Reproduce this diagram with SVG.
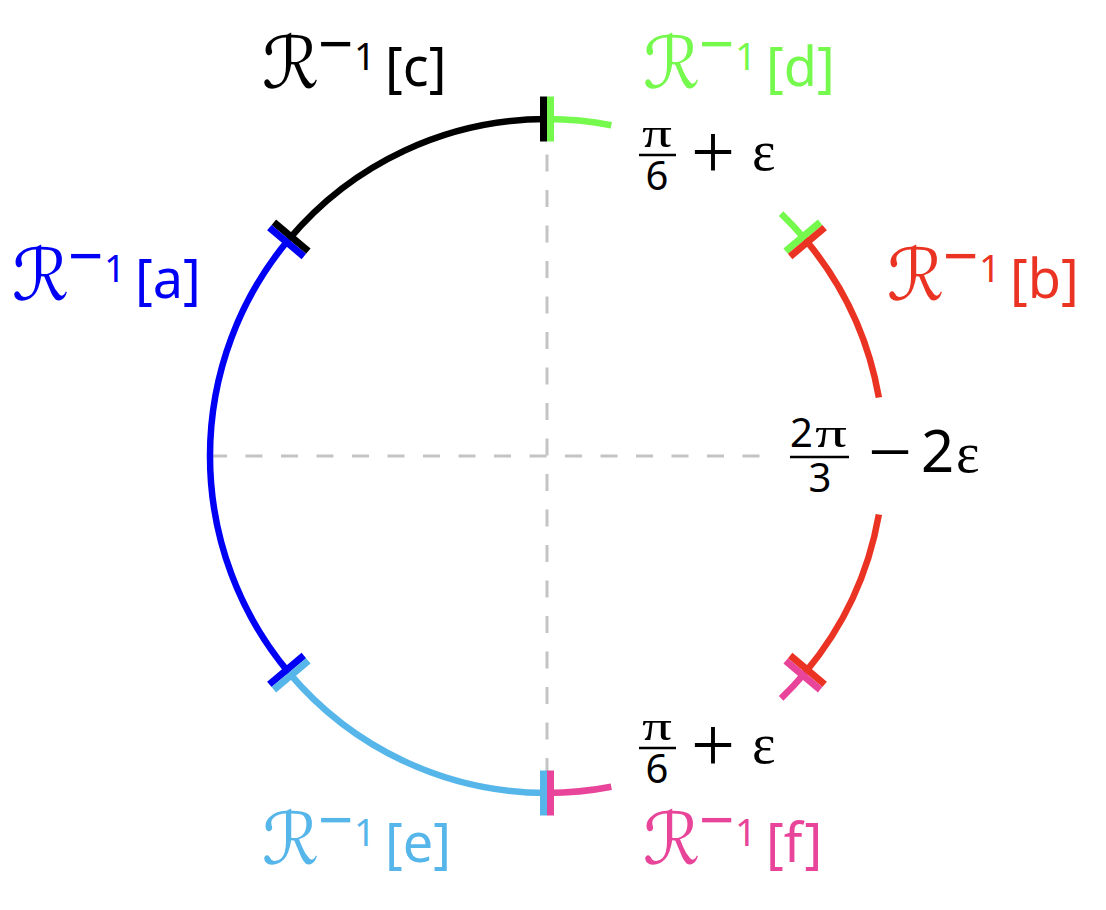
<svg xmlns="http://www.w3.org/2000/svg" width="1106" height="910" viewBox="0 0 1106 910">
<style>
.arc{fill:none;stroke-width:6.5;stroke-linecap:butt}
.tick{stroke-width:7;stroke-linecap:butt}
.axis{stroke:#c4c4c4;stroke-width:3;stroke-dasharray:17 18.5;fill:none}
.R{font-family:"DejaVu Sans",sans-serif;font-size:72px}
.sup{font-family:"Noto Sans",sans-serif;font-size:38px}
.supm{font-family:"Noto Sans",sans-serif;font-size:62px}
.br{font-family:"Noto Sans",sans-serif;font-size:54px}
.num{font-family:"Noto Sans",sans-serif;font-size:40px}
.gr{font-family:"Liberation Serif",serif;font-size:42px}
.op{font-family:"Liberation Serif",serif;font-size:78px}
.eps{font-family:"Liberation Serif",serif;font-size:56px}
.big{font-family:"Noto Sans",sans-serif;font-size:58px}
.bar{stroke:#000;stroke-width:2.5}
</style>
<g id="axes">
<line class="axis" x1="210" y1="456" x2="762" y2="456"/>
<line class="axis" x1="547" y1="119" x2="547" y2="793"/>
</g>
<g id="connectors">
<path class="arc" stroke="#000000" d="M547,119 A337,337 0 0 0 288.84,239.38"/>
<path class="arc" stroke="#0000F5" d="M288.84,239.38 A337,337 0 0 0 288.84,672.62"/>
<path class="arc" stroke="#56B6EA" d="M288.84,672.62 A337,337 0 0 0 547,793"/>
<path class="arc" stroke="#E8449A" d="M547,793 A337,337 0 0 0 611.3,786.81"/>
<path class="arc" stroke="#E8449A" d="M781.1,698.42 A337,337 0 0 0 805.16,672.62"/>
<path class="arc" stroke="#EA3323" d="M805.16,672.62 A337,337 0 0 0 878.88,514.52"/>
<path class="arc" stroke="#EA3323" d="M878.88,397.48 A337,337 0 0 0 805.16,239.38"/>
<path class="arc" stroke="#75F94C" d="M805.16,239.38 A337,337 0 0 0 781.1,213.58"/>
<path class="arc" stroke="#75F94C" d="M611.3,125.19 A337,337 0 0 0 547,119"/>
<line class="tick" stroke="#000000" x1="543.5" y1="96.5" x2="543.5" y2="141.5"/>
<line class="tick" stroke="#75F94C" x1="550.5" y1="96.5" x2="550.5" y2="141.5"/>
<line class="tick" stroke="#000000" x1="273.85" y1="222.24" x2="308.33" y2="251.16"/>
<line class="tick" stroke="#0000F5" x1="269.35" y1="227.6" x2="303.83" y2="256.52"/>
<line class="tick" stroke="#0000F5" x1="269.35" y1="684.4" x2="303.83" y2="655.48"/>
<line class="tick" stroke="#56B6EA" x1="273.85" y1="689.76" x2="308.33" y2="660.84"/>
<line class="tick" stroke="#56B6EA" x1="543.5" y1="770.5" x2="543.5" y2="815.5"/>
<line class="tick" stroke="#E8449A" x1="550.5" y1="770.5" x2="550.5" y2="815.5"/>
<line class="tick" stroke="#EA3323" x1="790.17" y1="655.48" x2="824.65" y2="684.4"/>
<line class="tick" stroke="#E8449A" x1="785.67" y1="660.84" x2="820.15" y2="689.76"/>
<line class="tick" stroke="#75F94C" x1="785.67" y1="251.16" x2="820.15" y2="222.24"/>
<line class="tick" stroke="#EA3323" x1="790.17" y1="256.52" x2="824.65" y2="227.6"/>
</g>
<g id="label-c" fill="#000000">
<text class="R" x="262" y="88">ℛ</text>
<text class="supm" x="318" y="66">−</text>
<text class="sup" x="354" y="70">1</text>
<text class="br" x="385" y="86">[c]</text>
</g>
<g id="label-d" fill="#75F94C">
<text class="R" x="643" y="88">ℛ</text>
<text class="supm" x="699" y="66">−</text>
<text class="sup" x="735" y="70">1</text>
<text class="br" x="766" y="86">[d]</text>
</g>
<g id="label-a" fill="#0000F5">
<text class="R" x="12" y="300">ℛ</text>
<text class="supm" x="68" y="278">−</text>
<text class="sup" x="104" y="282">1</text>
<text class="br" x="135" y="298">[a]</text>
</g>
<g id="label-b" fill="#EA3323">
<text class="R" x="887" y="300">ℛ</text>
<text class="supm" x="943" y="278">−</text>
<text class="sup" x="979" y="282">1</text>
<text class="br" x="1010" y="298">[b]</text>
</g>
<g id="label-e" fill="#56B6EA">
<text class="R" x="262" y="864">ℛ</text>
<text class="supm" x="318" y="842">−</text>
<text class="sup" x="354" y="846">1</text>
<text class="br" x="385" y="862">[e]</text>
</g>
<g id="label-f" fill="#E8449A">
<text class="R" x="643" y="864">ℛ</text>
<text class="supm" x="699" y="842">−</text>
<text class="sup" x="735" y="846">1</text>
<text class="br" x="766" y="862">[f]</text>
</g>
<g id="angle-top" fill="#000000">
<text class="gr" x="642" y="147" textLength="30" lengthAdjust="spacingAndGlyphs">π</text>
<line class="bar" x1="639" y1="155" x2="676" y2="155"/>
<text class="num" x="657" y="190" text-anchor="middle">6</text>
<text class="op" x="713" y="178" text-anchor="middle">+</text>
<text class="eps" x="752" y="170">ε</text>
</g>
<g id="angle-bottom" fill="#000000">
<text class="gr" x="642" y="740" textLength="30" lengthAdjust="spacingAndGlyphs">π</text>
<line class="bar" x1="639" y1="748" x2="676" y2="748"/>
<text class="num" x="657" y="783" text-anchor="middle">6</text>
<text class="op" x="713" y="771" text-anchor="middle">+</text>
<text class="eps" x="752" y="763">ε</text>
</g>
<g id="angle-right" fill="#000000">
<text class="num" x="790" y="447">2</text>
<text class="gr" x="815" y="447" textLength="32" lengthAdjust="spacingAndGlyphs">π</text>
<line class="bar" x1="790" y1="457" x2="849" y2="457"/>
<text class="num" x="820" y="492" text-anchor="middle">3</text>
<text class="op" x="890" y="478" text-anchor="middle">−</text>
<text class="big" x="921" y="472">2</text>
<text class="eps" x="956" y="472">ε</text>
</g>
</svg>
